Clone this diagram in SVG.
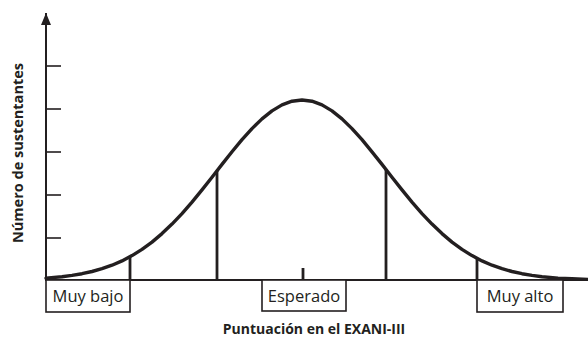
<svg xmlns="http://www.w3.org/2000/svg" width="588" height="339" viewBox="0 0 588 339">
<style>
.ax{stroke:#231f20;stroke-width:2;fill:none}
.tk{stroke:#231f20;stroke-width:1.6;fill:none}
.cv{stroke:#231f20;stroke-width:3.4;fill:none;stroke-linejoin:round;stroke-linecap:round}
.vl{stroke:#231f20;stroke-width:2.8;fill:none}
.bx{stroke:#231f20;stroke-width:1.6;fill:#fff}
.lb{font-family:"Open Sans","Noto Sans",sans-serif;font-size:16.5px;fill:#231f20;text-anchor:middle}
.tt{font-family:"Open Sans","Noto Sans",sans-serif;font-size:14px;font-weight:bold;fill:#231f20;text-anchor:middle}
</style>
<defs>
<marker id="arr" viewBox="0 0 12 10" refX="12" refY="5" markerWidth="12" markerHeight="10" markerUnits="userSpaceOnUse" orient="auto">
<path d="M0,0 L12,5 L0,10 Z" fill="#231f20"/>
</marker>
</defs>
<g id="axes">
<line class="ax" x1="46" y1="281" x2="46" y2="13" marker-end="url(#arr)"/>
<line class="ax" x1="46" y1="280" x2="588" y2="280"/>
<line class="tk" x1="46" y1="66" x2="61" y2="66"/>
<line class="tk" x1="46" y1="109" x2="61" y2="109"/>
<line class="tk" x1="46" y1="152" x2="61" y2="152"/>
<line class="tk" x1="46" y1="195" x2="61" y2="195"/>
<line class="tk" x1="46" y1="238" x2="61" y2="238"/>
<line class="vl" x1="303" y1="268" x2="303" y2="280"/>
</g>
<g id="curve">
<polyline class="cv" points="46,278.1 62,276.7 72,275.4 82,273.7 92,271.5 102,268.7 112,265.2 122,260.9 132,255.6 142,249.4 152,242.1 162,233.6 172,224.1 182,213.6 192,202.1 202,189.9 212,177.2 222,164.4 232,151.8 242,139.7 252,128.6 262,118.9 272,110.9 282,104.9 292,101.2 302,100 312,101.2 322,104.9 332,110.9 342,118.9 352,128.6 362,139.7 372,151.8 382,164.4 392,177.2 402,189.9 412,202.1 422,213.6 432,224.1 442,233.6 452,242.1 462,249.4 472,255.6 482,260.9 492,265.2 502,268.7 512,271.5 522,273.7 532,275.4 542,276.7 558,278.1 572,278.8 588,279.4"/>
</g>
<g id="dividers">
<line class="vl" x1="130" y1="256" x2="130" y2="280"/>
<line class="vl" x1="217" y1="171" x2="217" y2="280"/>
<line class="vl" x1="386" y1="169" x2="386" y2="280"/>
<line class="vl" x1="477" y1="259" x2="477" y2="280"/>
</g>
<g id="muy-bajo">
<rect class="bx" x="46" y="280" width="84" height="32"/>
<text class="lb" x="88" y="302">Muy bajo</text>
</g>
<g id="esperado">
<rect class="bx" x="262" y="280" width="84" height="31"/>
<text class="lb" x="304" y="302">Esperado</text>
</g>
<g id="muy-alto">
<rect class="bx" x="477" y="280" width="86" height="32"/>
<text class="lb" x="520" y="302">Muy alto</text>
</g>
<g id="labels">
<text class="tt" x="314" y="334">Puntuación en el EXANI-III</text>
<text class="tt" transform="translate(23,153) rotate(-90)" x="0" y="0" style="font-size:14.5px">Número de sustentantes</text>
</g>
</svg>
